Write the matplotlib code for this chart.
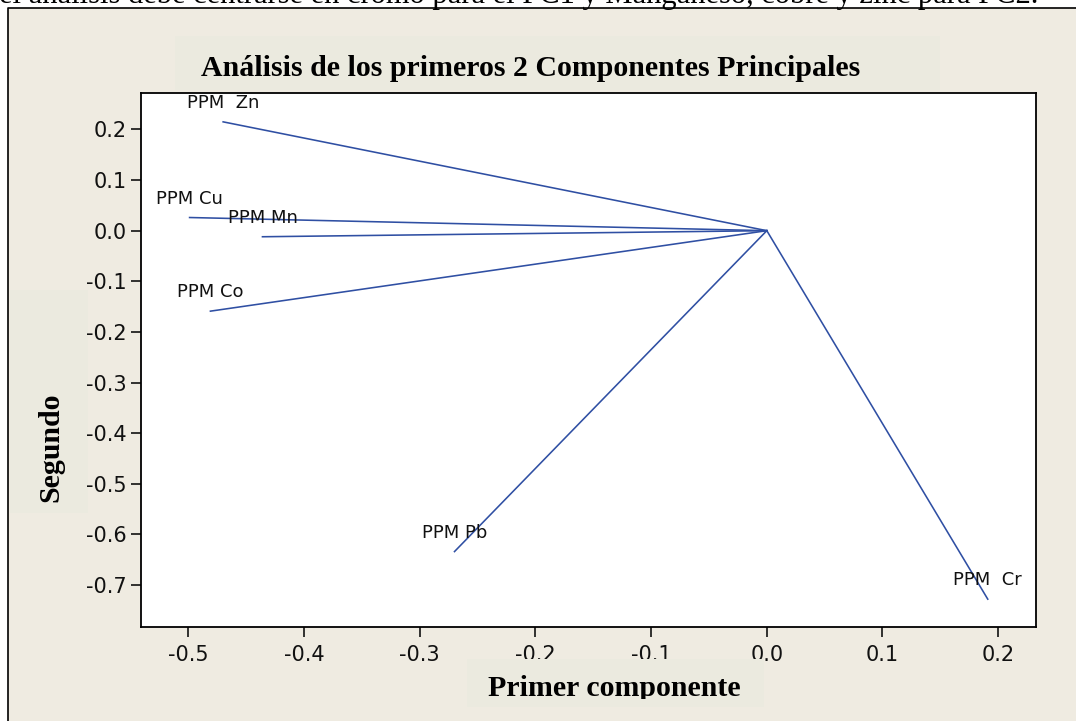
import matplotlib
matplotlib.use("Agg")
import matplotlib.pyplot as plt
from matplotlib.patches import Rectangle
from matplotlib.lines import Line2D
from matplotlib.transforms import Bbox, TransformedBbox

plt.rcParams["axes.unicode_minus"] = False

# loadings of the first two principal components
variables = ["PPM  Zn", "PPM Cu", "PPM Mn", "PPM Co", "PPM Pb", "PPM  Cr"]
pc1 = [-0.470, -0.499, -0.436, -0.481, -0.270, 0.191]
pc2 = [0.215, 0.026, -0.012, -0.159, -0.634, -0.728]

xticks = [-0.5, -0.4, -0.3, -0.2, -0.1, 0.0, 0.1, 0.2]
yticks = [0.2, 0.1, 0.0, -0.1, -0.2, -0.3, -0.4, -0.5, -0.6, -0.7]

title = "Análisis de los primeros 2 Componentes Principales"
xlabel = "Primer componente"
ylabel = "Segundo"
sentence = "el análisis debe centrarse en cromo para el PC1 y Manganeso, cobre y zinc para PC2."

W, H = 1076, 721
BEIGE = "#efebe1"
BOX = "#ebeadf"
LINE = "#2f4fa3"
SERIF = "Liberation Serif"


def fx(px):
    return px / W


def fy(py):
    return 1 - py / H


def box(x0, y0, x1, y1, z):
    fig.add_artist(Rectangle((fx(x0), fy(y1)), fx(x1) - fx(x0), fy(y0) - fy(y1),
                             transform=fig.transFigure, facecolor=BOX,
                             edgecolor="none", zorder=z))


fig = plt.figure(figsize=(W / 100, H / 100), dpi=100)
fig.patch.set_facecolor("white")

# page sheet with its frame
fig.add_artist(Rectangle((fx(8), 0), 1.0, fy(8), transform=fig.transFigure,
                         facecolor=BEIGE, edgecolor="none", zorder=-3))
fig.add_artist(Line2D([fx(8), fx(8), 1.0], [0, fy(8), fy(8)], transform=fig.transFigure,
                      color="black", lw=1.2, zorder=-2))
fig.text(fx(-1), fy(3.5), sentence, ha="left", va="baseline", fontsize=22,
         family=SERIF, zorder=-1)

ax = fig.add_axes([fx(141), fy(627), fx(1036) - fx(141), fy(93) - fy(627)])
ax.set_facecolor("white")
for s in ax.spines.values():
    s.set_color("black")
    s.set_linewidth(1.3)

for name, x, y in zip(variables, pc1, pc2):
    ax.plot([0, x], [0, y], color=LINE, lw=1.15)
    ax.annotate(name, (x, y), xytext=(0, 13.5), textcoords="offset points",
                ha="center", va="center", fontsize=13, color="#111111")

ax.set_xlim(-0.541, 0.2327)
ax.set_ylim(-0.783, 0.272)
ax.set_xticks(xticks)
ax.set_yticks(yticks)
ax.set_xticklabels([f"{v:.1f}" for v in xticks])
ax.set_yticklabels([f"{v:.1f}" for v in yticks])
ax.tick_params(direction="out", length=7, width=1.2, labelsize=15, colors="#111111")
ax.tick_params(axis="x", pad=6)
ax.tick_params(axis="y", pad=3)

# title and axis labels on their own light panels
box(175, 36, 940, 90, -1)
fig.text(fx(531), fy(68), title, ha="center", va="center", fontsize=21.5,
         family=SERIF, weight="bold", zorder=2)

box(10, 290, 88, 513, -1)
fig.text(fx(51), fy(447.5), ylabel, ha="center", va="center", rotation=90,
         fontsize=21.5, family=SERIF, weight="bold", zorder=2)

box(467, 659, 764, 707, 5)
xl = fig.text(fx(614), fy(688), xlabel, ha="center", va="center", fontsize=21.5,
              family=SERIF, weight="bold", zorder=6)
xl.set_clip_box(TransformedBbox(Bbox([[0, fy(699)], [1, 1]]), fig.transFigure))

fig.savefig("out.png", dpi=100, facecolor="white")
